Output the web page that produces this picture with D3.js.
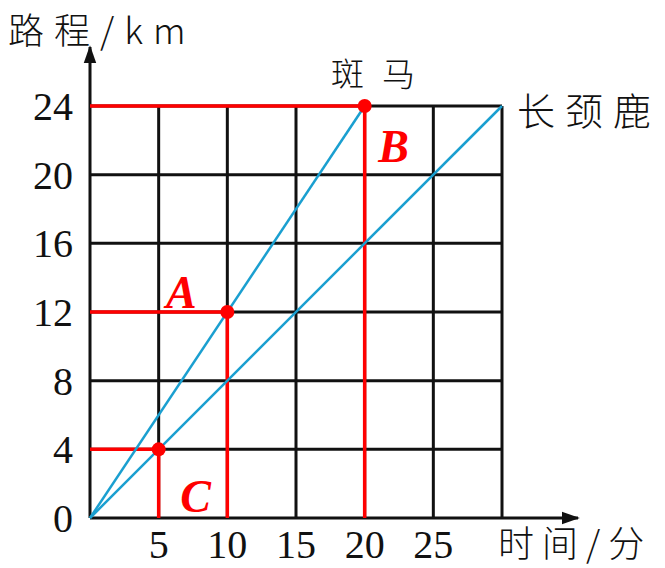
<!DOCTYPE html>
<html>
<head>
<meta charset="utf-8">
<script src="https://cdn.jsdelivr.net/npm/d3@7"></script>
<style>
  body { margin: 0; background: #fff; }
  svg { display: block; }
  .num { font-family: "Liberation Serif", "DejaVu Serif", serif; }
  .cjk { font-family: "Noto Sans CJK SC", sans-serif; font-weight: 300; }
</style>
</head>
<body>
<div id="chart"></div>
<script>
// data
const xTicks = [5, 10, 15, 20, 25];
const yTicks = [0, 4, 8, 12, 16, 20, 24];
const xGrid = [0, 5, 10, 15, 20, 25, 30];
const yGrid = [0, 4, 8, 12, 16, 20, 24];
const zebra = [[0, 0], [20, 24]];
const giraffe = [[0, 0], [30, 24]];
const marks = [
  { name: "A", x: 10, y: 12 },
  { name: "B", x: 20, y: 24 },
  { name: "C", x: 5, y: 4 }
];

const width = 665, height = 568;
const svg = d3.select("#chart").append("svg")
  .attr("width", width).attr("height", height);

const x = d3.scaleLinear().domain([0, 30]).range([90, 502]);
const y = d3.scaleLinear().domain([0, 24]).range([518, 106]);

const red = "#ff0000", blue = "#1a9fd0";

// grid
const g = svg.append("g");
g.selectAll("line.v").data(xGrid.slice(1)).join("line")
  .attr("x1", d => x(d)).attr("x2", d => x(d))
  .attr("y1", y(0)).attr("y2", y(24))
  .attr("stroke", "#111").attr("stroke-width", 3);
g.selectAll("line.h").data(yGrid.slice(1)).join("line")
  .attr("x1", x(0)).attr("x2", x(30))
  .attr("y1", d => y(d)).attr("y2", d => y(d))
  .attr("stroke", "#111").attr("stroke-width", 3);

// axes with arrows
svg.append("defs").append("marker")
  .attr("id", "arrow").attr("viewBox", "0 0 10 10")
  .attr("refX", 9).attr("refY", 5)
  .attr("markerWidth", 6).attr("markerHeight", 6)
  .attr("markerUnits", "strokeWidth")
  .attr("orient", "auto")
  .append("path").attr("d", "M0,1.5 L10,5 L0,8.5 Z").attr("fill", "#111");

svg.append("line")
  .attr("x1", x(0)).attr("x2", 578).attr("y1", y(0)).attr("y2", y(0))
  .attr("stroke", "#111").attr("stroke-width", 3).attr("marker-end", "url(#arrow)");
svg.append("line")
  .attr("x1", x(0)).attr("x2", x(0)).attr("y1", y(0)).attr("y2", 47)
  .attr("stroke", "#111").attr("stroke-width", 3).attr("marker-end", "url(#arrow)");

// red guide lines
const guides = svg.append("g");
marks.forEach(m => {
  guides.append("line")
    .attr("x1", x(0)).attr("x2", x(m.x)).attr("y1", y(m.y)).attr("y2", y(m.y))
    .attr("stroke", red).attr("stroke-width", 3.5);
  guides.append("line")
    .attr("x1", x(m.x)).attr("x2", x(m.x)).attr("y1", y(m.y)).attr("y2", y(0))
    .attr("stroke", red).attr("stroke-width", 3.5);
});

// motion lines
const line = d3.line().x(d => x(d[0])).y(d => y(d[1]));
[zebra, giraffe].forEach(s => {
  svg.append("path").attr("d", line(s))
    .attr("fill", "none").attr("stroke", blue).attr("stroke-width", 2.5);
});

// points
svg.selectAll("circle.pt").data(marks).join("circle")
  .attr("cx", d => x(d.x)).attr("cy", d => y(d.y)).attr("r", 7)
  .attr("fill", red);

// point letters
const letterPos = { A: [-46, -4], B: [29, 56], C: [37, 63] };
svg.selectAll("text.lbl").data(marks).join("text")
  .attr("class", "num")
  .attr("x", d => x(d.x) + letterPos[d.name][0])
  .attr("y", d => y(d.y) + letterPos[d.name][1])
  .attr("text-anchor", "middle")
  .attr("font-size", 46).attr("font-weight", "bold").attr("font-style", "italic")
  .attr("fill", red)
  .text(d => d.name);

// tick labels
svg.selectAll("text.yt").data(yTicks).join("text")
  .attr("class", "num")
  .attr("x", 73).attr("y", d => y(d) + 14)
  .attr("text-anchor", "end").attr("font-size", 40).attr("fill", "#111")
  .text(d => d);
svg.selectAll("text.xt").data(xTicks).join("text")
  .attr("class", "num")
  .attr("x", d => x(d)).attr("y", 558)
  .attr("text-anchor", "middle").attr("font-size", 40).attr("fill", "#111")
  .text(d => d);

// titles
svg.append("text").attr("class", "cjk")
  .attr("x", 8).attr("y", 44).attr("font-size", 36).attr("fill", "#111")
  .attr("letter-spacing", 10)
  .text("路程/km");
svg.append("text").attr("class", "cjk")
  .attr("x", 498).attr("y", 557).attr("font-size", 36).attr("fill", "#111")
  .attr("letter-spacing", 8)
  .text("时间/分");
svg.append("text").attr("class", "cjk")
  .attr("x", 331).attr("y", 86).attr("font-size", 33).attr("fill", "#111")
  .attr("letter-spacing", 18)
  .text("斑马");
svg.append("text").attr("class", "cjk")
  .attr("x", 517).attr("y", 125).attr("font-size", 38).attr("fill", "#111")
  .attr("letter-spacing", 10)
  .text("长颈鹿");
</script>
</body>
</html>
